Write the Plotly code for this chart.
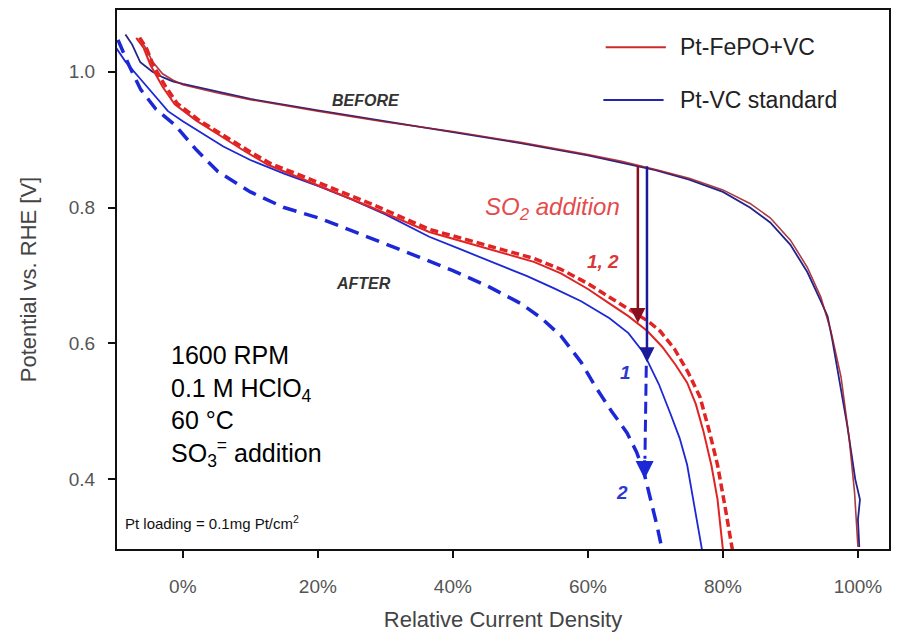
import plotly.graph_objects as go

# ---------------- data ----------------
tick_vals_x = [0, 20, 40, 60, 80, 100]
tick_text_x = ["0%", "20%", "40%", "60%", "80%", "100%"]
tick_vals_y = [0.4, 0.6, 0.8, 1.0]

# BEFORE curves
before_x_fepo = [-6.5, -5.5, -4.5, -3.0, -1.5, 0, 5, 10, 20, 30, 40, 50, 60, 65, 70, 75, 80, 84, 87, 90, 92.5, 94.5, 96, 97.5, 98.7, 99.5, 100.0]
before_v_fepo = [1.05, 1.035, 1.015, 0.997, 0.988, 0.981, 0.969, 0.959, 0.942, 0.926, 0.912, 0.896, 0.878, 0.868, 0.856, 0.843, 0.826, 0.806, 0.785, 0.752, 0.712, 0.668, 0.618, 0.55, 0.46, 0.38, 0.30]

before_x_std = [-8.5, -7.5, -6.3, -4.5, -3.0, -1.5, 0, 5, 10, 20, 30, 40, 50, 60, 65, 70, 75, 80, 84, 87, 90, 92.5, 94.5, 95.5, 96.2, 97.0, 97.8, 98.4, 99.0, 99.6, 100.3, 100.0, 100.2]
before_v_std = [1.055, 1.04, 1.014, 1.0, 0.992, 0.986, 0.982, 0.971, 0.960, 0.943, 0.927, 0.912, 0.895, 0.877, 0.866, 0.855, 0.841, 0.823, 0.800, 0.778, 0.745, 0.705, 0.662, 0.64, 0.605, 0.56, 0.52, 0.48, 0.44, 0.40, 0.37, 0.34, 0.30]

# AFTER curves, Pt-FePO+VC (1 solid, 2 dashed)
after1_x_fepo = [-6.9, -5.8, -4.8, -3.0, -1.2, 2, 5.2, 9, 12.6, 20, 28, 36.5, 45, 52, 56, 60, 63, 66, 68.8, 71, 73, 74.7, 76, 77.1, 78.3, 79.2, 80.0]
after1_v_fepo = [1.05, 1.035, 1.01, 0.978, 0.952, 0.928, 0.908, 0.884, 0.863, 0.833, 0.800, 0.764, 0.740, 0.720, 0.703, 0.680, 0.660, 0.640, 0.618, 0.595, 0.568, 0.542, 0.51, 0.471, 0.42, 0.37, 0.296]

after2_x_fepo = [-6.4, -5.4, -4.4, -2.6, -0.8, 2.5, 5.6, 9.5, 13, 20, 28, 36.5, 45, 52, 56, 60, 63.2, 66.5, 69, 70.7, 72.8, 74.8, 76.6, 78, 79.2, 80.3, 81.4]
after2_v_fepo = [1.05, 1.035, 1.01, 0.979, 0.953, 0.928, 0.909, 0.885, 0.865, 0.837, 0.805, 0.768, 0.744, 0.725, 0.709, 0.688, 0.668, 0.648, 0.632, 0.618, 0.592, 0.558, 0.521, 0.47, 0.421, 0.36, 0.296]

# AFTER curves, Pt-VC standard (1 solid, 2 dashed)
after1_x_std = [-10.2, -8.5, -6.25, -4, -2.2, 0, 3, 6, 10, 15, 20, 25, 30, 36.5, 41, 46.4, 51, 55, 59, 63.2, 66, 68.2, 70.5, 72.2, 73.6, 74.7, 75.8, 76.9]
after1_v_std = [1.04, 1.015, 0.989, 0.962, 0.942, 0.927, 0.908, 0.89, 0.87, 0.85, 0.832, 0.812, 0.79, 0.757, 0.739, 0.718, 0.699, 0.681, 0.662, 0.637, 0.615, 0.587, 0.54, 0.497, 0.46, 0.421, 0.36, 0.296]

after2_x_std = [-9.6, -8.0, -6.25, -4, -1.2, 2, 5.2, 10, 15, 20, 25, 30, 35, 40, 45, 50, 53, 56, 59, 61, 63.5, 65.8, 67.2, 68.3, 69.3, 70.2, 71.0]
after2_v_std = [1.047, 1.01, 0.974, 0.945, 0.922, 0.885, 0.853, 0.823, 0.80, 0.785, 0.766, 0.747, 0.727, 0.707, 0.685, 0.659, 0.638, 0.611, 0.572, 0.538, 0.50, 0.468, 0.44, 0.41, 0.37, 0.333, 0.296]

# SO2 addition arrows: (x, from V, to V)
arrow_fepo = (67.4, 0.863, 0.630)
arrow_std = (68.75, 0.863, 0.572)
arrow_std_dash_x = [68.65, 68.45]
arrow_std_dash_v = [0.567, 0.43]
arrow_std_head = (68.4, 0.43, 0.40)

RED = "#e02424"
BLUE = "#1c28d6"
TXT = "Liberation Sans, Arial, sans-serif"

fig = go.Figure()

# before
fig.add_trace(go.Scatter(x=before_x_std, y=before_v_std, mode="lines",
                         line=dict(color="#23238c", width=1.8), showlegend=False))
fig.add_trace(go.Scatter(x=before_x_fepo, y=before_v_fepo, mode="lines", opacity=0.85,
                         line=dict(color="#9c1a26", width=1.6), showlegend=False))
# after, standard
fig.add_trace(go.Scatter(x=after1_x_std, y=after1_v_std, mode="lines",
                         line=dict(color=BLUE, width=1.8), showlegend=False))
fig.add_trace(go.Scatter(x=after2_x_std, y=after2_v_std, mode="lines",
                         line=dict(color=BLUE, width=3.5, dash="14px,8px"), showlegend=False))
# after, FePO
fig.add_trace(go.Scatter(x=after1_x_fepo, y=after1_v_fepo, mode="lines",
                         line=dict(color=RED, width=2.0), showlegend=False))
fig.add_trace(go.Scatter(x=after2_x_fepo, y=after2_v_fepo, mode="lines",
                         line=dict(color=RED, width=3.5, dash="8px,4px"), showlegend=False))
# dashed part of the blue arrow
fig.add_trace(go.Scatter(x=arrow_std_dash_x, y=arrow_std_dash_v, mode="lines",
                         line=dict(color=BLUE, width=3, dash="12px,6px"), showlegend=False))

annotations = []
# arrows
annotations.append(dict(x=arrow_fepo[0], y=arrow_fepo[2], ax=arrow_fepo[0], ay=arrow_fepo[1],
                        xref="x", yref="y", axref="x", ayref="y", text="", showarrow=True,
                        arrowhead=2, arrowsize=1.2, arrowwidth=2.5, arrowcolor="#8a0f1e"))
annotations.append(dict(x=arrow_std[0], y=arrow_std[2], ax=arrow_std[0], ay=arrow_std[1],
                        xref="x", yref="y", axref="x", ayref="y", text="", showarrow=True,
                        arrowhead=2, arrowsize=1.2, arrowwidth=2.5, arrowcolor="#1a1a9a"))
annotations.append(dict(x=arrow_std_head[0], y=arrow_std_head[2], ax=arrow_std_head[0], ay=arrow_std_head[1],
                        xref="x", yref="y", axref="x", ayref="y", text="", showarrow=True,
                        arrowhead=2, arrowsize=1.2, arrowwidth=3, arrowcolor=BLUE))

# labels
annotations.append(dict(x=27.2, y=0.958, xref="x", yref="y", text="<b><i>BEFORE</i></b>", showarrow=False,
                        font=dict(family=TXT, size=16, color="#333333")))
annotations.append(dict(x=26.8, y=0.688, xref="x", yref="y", text="<b><i>AFTER</i></b>", showarrow=False,
                        font=dict(family=TXT, size=16, color="#333333")))
annotations.append(dict(x=54.8, y=0.799, xref="x", yref="y", text="<i>SO<sub>2</sub> addition</i>", showarrow=False,
                        font=dict(family=TXT, size=24, color="#e44c4c")))
annotations.append(dict(x=62.2, y=0.721, xref="x", yref="y", text="<b><i>1, 2</i></b>", showarrow=False,
                        font=dict(family=TXT, size=19, color="#d83838")))
annotations.append(dict(x=65.5, y=0.557, xref="x", yref="y", text="<b><i>1</i></b>", showarrow=False,
                        font=dict(family=TXT, size=19, color="#2a3ad0")))
annotations.append(dict(x=65.0, y=0.380, xref="x", yref="y", text="<b><i>2</i></b>", showarrow=False,
                        font=dict(family=TXT, size=19, color="#2a3ad0")))
annotations.append(dict(x=-2.0, y=0.508, xref="x", yref="y", xanchor="left", yanchor="middle", align="left",
                        text="1600 RPM<br>0.1 M HClO<sub>4</sub><br>60 °C<br>SO<sub>3</sub><sup>=</sup> addition",
                        showarrow=False, font=dict(family=TXT, size=25, color="#000000")))
annotations.append(dict(x=-8.9, y=0.336, xref="x", yref="y", xanchor="left", text="Pt loading = 0.1mg Pt/cm<sup>2</sup>",
                        showarrow=False, font=dict(family=TXT, size=15, color="#111111")))
# legend text
annotations.append(dict(x=0.727, y=0.931, xref="paper", yref="paper", xanchor="left", yanchor="middle",
                        text="Pt-FePO+VC", showarrow=False, font=dict(family=TXT, size=23, color="#222222")))
annotations.append(dict(x=0.727, y=0.833, xref="paper", yref="paper", xanchor="left", yanchor="middle",
                        text="Pt-VC standard", showarrow=False, font=dict(family=TXT, size=23, color="#222222")))

shapes = [
    dict(type="line", xref="paper", yref="paper", x0=0.633, x1=0.711, y0=0.931, y1=0.931,
         line=dict(color="#c82c2c", width=2)),
    dict(type="line", xref="paper", yref="paper", x0=0.630, x1=0.708, y0=0.833, y1=0.833,
         line=dict(color="#2424b0", width=2)),
]

fig.update_layout(
    width=898, height=641,
    margin=dict(l=117, r=7, t=10, b=92),
    paper_bgcolor="white", plot_bgcolor="white",
    annotations=annotations, shapes=shapes,
    showlegend=False,
)
fig.update_xaxes(range=[-9.75, 104.6], tickvals=tick_vals_x, ticktext=tick_text_x,
                 showgrid=False, zeroline=False, showline=True, linecolor="#111111", linewidth=2, mirror=True,
                 ticks="outside", ticklen=7, tickwidth=1.5, tickcolor="#111111", ticklabelstandoff=12,
                 tickfont=dict(family=TXT, size=19, color="#555555"),
                 title=dict(text="Relative Current Density", font=dict(family=TXT, size=22, color="#444444"), standoff=16))
fig.update_yaxes(range=[0.297, 1.091], tickvals=tick_vals_y, tickformat=".1f",
                 showgrid=False, zeroline=False, showline=True, linecolor="#111111", linewidth=2, mirror=True,
                 ticks="outside", ticklen=7, tickwidth=1.5, tickcolor="#111111", ticklabelstandoff=9,
                 tickfont=dict(family=TXT, size=19, color="#555555"),
                 title=dict(text="Potential vs. RHE [V]", font=dict(family=TXT, size=22, color="#444444"), standoff=26))

fig.write_html("out.html")
